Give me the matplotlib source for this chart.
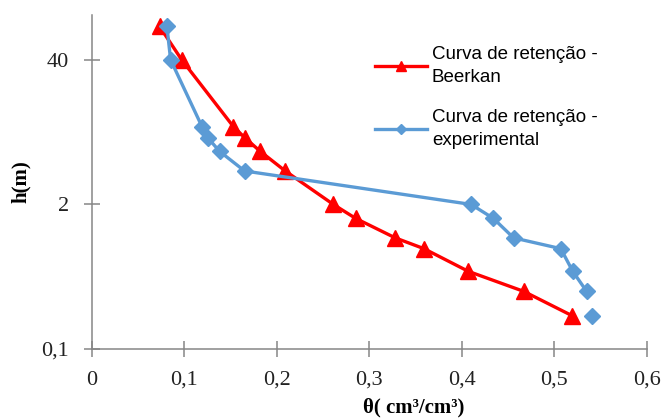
import numpy as np
import matplotlib
matplotlib.use("Agg")
import matplotlib.pyplot as plt
from matplotlib.lines import Line2D

# pressure head (same levels for both curves)
h = [80, 40, 10, 8, 6, 4, 2, 1.5, 1, 0.8, 0.5, 0.33, 0.2]
# water content
theta_beerkan = [0.073, 0.097, 0.153, 0.165, 0.182, 0.209, 0.261, 0.285, 0.328, 0.359, 0.407, 0.467, 0.519]
theta_exp = [0.081, 0.085, 0.119, 0.125, 0.138, 0.165, 0.410, 0.434, 0.456, 0.507, 0.520, 0.535, 0.541]

xticks = [0, 0.1, 0.2, 0.3, 0.4, 0.5, 0.6]
xticklabels = ['0', '0,1', '0,2', '0,3', '0,4', '0,5', '0,6']
yticks = [0.1, 2, 40]
yticklabels = ['0,1', '2', '40']

red = '#FF0000'
blue = '#5B9BD5'
grey = '#868686'

fig = plt.figure(figsize=(6.64, 4.2), dpi=100)
ax = fig.add_axes([0.1386, 0.169, 0.8354, 0.795])

ax.plot(theta_beerkan, h, color=red, lw=2.4, marker='^', ms=11, zorder=3)
# last experimental point is not joined to the others
ax.plot(theta_exp[:-1], h[:-1], color=blue, lw=2.4, marker='D', ms=8, zorder=3)
ax.plot(theta_exp[-1:], h[-1:], color=blue, lw=0, marker='D', ms=8, zorder=3)

ax.set_yscale('log', base=20)
ax.set_ylim(0.1, 101)
ax.set_xlim(0, 0.6)
ax.set_xticks(xticks)
ax.set_xticklabels(xticklabels)
ax.set_yticks(yticks)
ax.set_yticklabels(yticklabels)
ax.minorticks_off()

for s in ['top', 'right']:
    ax.spines[s].set_visible(False)
for s in ['left', 'bottom']:
    ax.spines[s].set_color(grey)
    ax.spines[s].set_linewidth(1.1)
ax.tick_params(direction='inout', length=11, width=1.1, color=grey,
               labelsize=16, labelcolor='#222222')
ax.tick_params(axis='x', pad=10)
ax.tick_params(axis='y', pad=11)
for lab in ax.get_xticklabels() + ax.get_yticklabels():
    lab.set_family('Liberation Serif')

ax.set_xlabel('θ( cm³/cm³)', family='Liberation Serif', fontweight='bold', fontsize=15)
ax.xaxis.set_label_coords(0.58, -0.145)
ax.set_ylabel('h(m)', family='Liberation Serif', fontweight='bold', fontsize=15)
ax.yaxis.set_label_coords(-0.11, 0.5)

handles = [Line2D([], [], color=red, lw=2.4, marker='^', ms=7),
           Line2D([], [], color=blue, lw=2.4, marker='D', ms=5)]
labels = ['Curva de retenção -\nBeerkan', 'Curva de retenção -\nexperimental']
leg = ax.legend(handles, labels, loc='upper left', bbox_to_anchor=(0.479, 0.958), frameon=False,
                prop={'family': 'Liberation Sans', 'size': 13.5}, handlelength=2.8,
                handletextpad=0.25, labelspacing=1.25)
for t in leg.get_texts():
    t.set_linespacing(1.45)

fig.savefig('out.png', dpi=100)
